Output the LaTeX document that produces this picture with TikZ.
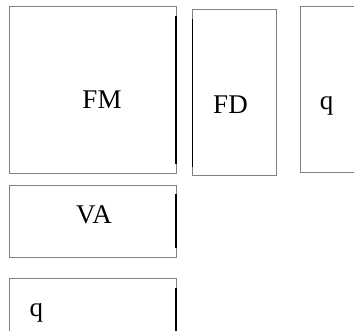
\documentclass[tikz,border=0pt]{standalone}
\usepackage{fontspec}
\setmainfont{Liberation Serif}
\begin{document}
\begin{tikzpicture}[x=1pt,y=-1pt,
  box/.style={draw=black!50, line width=1pt, inner sep=0pt, outer sep=0pt, anchor=north west},
  edgebar/.style={draw=black, line width=1.7pt},
  thinbar/.style={draw=black, line width=1pt},
  lbl/.style={font=\fontsize{27}{32}\selectfont, inner sep=0pt, anchor=base}]
\useasboundingbox (0,0) rectangle (354,330);
\clip (0,0) rectangle (354,330);
\node[box, minimum width=166.5pt, minimum height=167pt] (fm) at (9.5,6.5) {};
\node[box, minimum width=83.5pt, minimum height=165.7pt] (fd) at (192.5,9.3) {};
\node[box, minimum width=70pt, minimum height=166.7pt] (qa) at (300,6) {};
\node[box, minimum width=166.5pt, minimum height=72pt] (va) at (9.5,185) {};
\node[box, minimum width=166.5pt, minimum height=70pt] (qb) at (9.5,278.3) {};
\draw[edgebar] ([yshift=-9.5pt]fm.north east) -- ([yshift=9.5pt]fm.south east);
\draw[thinbar] ([yshift=-10pt]fd.north west) -- ([yshift=8.5pt]fd.south west);
\draw[edgebar] ([yshift=-9pt]va.north east) -- ([yshift=9pt]va.south east);
\draw[edgebar] ([yshift=-10pt]qb.north east) -- ([yshift=10pt]qb.south east);
\node[lbl] (tfm) at (102,108) {FM};
\node[lbl] (tfd) at (230.5,113) {FD};
\node[lbl] (tqa) at (326.5,109.5) {q};
\node[lbl] (tva) at (94,223) {VA};
\node[lbl] (tqb) at (36.5,316) {q};
\end{tikzpicture}
\end{document}
